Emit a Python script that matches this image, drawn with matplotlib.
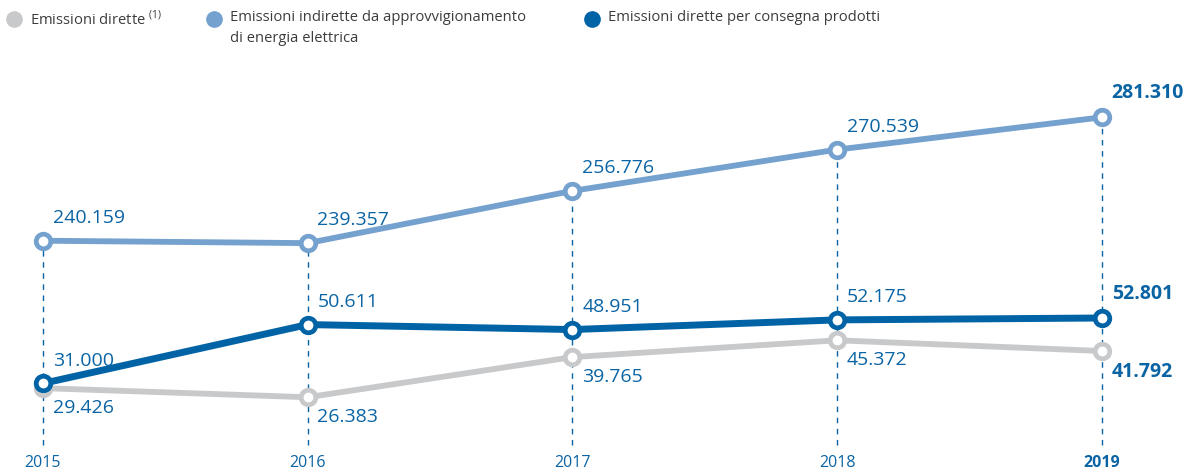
import numpy as np
import matplotlib
matplotlib.use('Agg')
import matplotlib.pyplot as plt
from matplotlib.transforms import blended_transform_factory

plt.rcParams['font.family'] = ['Open Sans', 'DejaVu Sans']

# 数据
anni = [2015, 2016, 2017, 2018, 2019]
dirette = [29426, 26383, 39765, 45372, 41792]
indirette = [240159, 239357, 256776, 270539, 281310]
consegna = [31000, 50611, 48951, 52175, 52801]
etichette_anni = ['2015', '2016', '2017', '2018', '2019']

grigio = '#C8C9CB'
azzurro = '#75A1CF'
blu = '#0063A6'
testo_blu = '#0A64A4'


# scala spezzata: comprime l'intervallo 60.000-230.000
def avanti(v):
    v = np.asarray(v, dtype=float)
    return np.where(v <= 60000, v,
                    np.where(v <= 230000, 60000 + (v - 60000) * 8400 / 170000, v - 161600))


def indietro(t):
    t = np.asarray(t, dtype=float)
    return np.where(t <= 60000, t,
                    np.where(t <= 68400, 60000 + (t - 60000) * 170000 / 8400, t + 161600))


fig = plt.figure(figsize=(11.96, 4.71), dpi=100)
ax = fig.add_axes([0, 0, 1, 1])
ax.set_yscale('function', functions=(avanti, indietro))
ax.set_xlim(2014.838, 2019.355)
ax.set_ylim(1801, 320401)
ax.axis('off')

# linee tratteggiate verticali
for x, top in zip(anni, np.max([dirette, indirette, consegna], axis=0)):
    ax.plot([x, x], [10468, top], color=testo_blu, lw=1, dashes=(4, 4), zorder=1)

for serie, col, lw in [(dirette, grigio, 4.2), (indirette, azzurro, 4.2), (consegna, blu, 5)]:
    ax.plot(anni, serie, color=col, lw=lw, zorder=2, solid_capstyle='round')
    ax.plot(anni, serie, 'o', ms=10.5, mfc='white', mec=col, mew=3.4, zorder=3)


def fmt(v):
    return f'{v:,}'.replace(',', '.')


def etichetta(x, v, sopra, ultimo):
    dy = 10 if sopra else -8
    ax.annotate(fmt(v), (x, v), xytext=(7, dy), textcoords='offset points',
                va='bottom' if sopra else 'top', ha='left', fontsize=14,
                color=testo_blu, fontweight='bold' if ultimo else 'normal')


for i, x in enumerate(anni):
    ultimo = i == len(anni) - 1
    etichetta(x, indirette[i], True, ultimo)
    etichetta(x, consegna[i], True, ultimo)
    etichetta(x, dirette[i], False, ultimo)

# anni sull'asse x
trans = blended_transform_factory(ax.transData, fig.transFigure)
for x, lab in zip(anni, etichette_anni):
    ax.text(x, 1 - 463 / 471, lab, transform=trans, ha='center', va='center',
            fontsize=11.5, color=testo_blu, fontweight='bold' if lab == '2019' else 'normal')

# legenda
voci = [(14, grigio, 'Emissioni dirette $^{\\mathregular{(1)}}$'),
        (214, azzurro, 'Emissioni indirette da approvvigionamento\ndi energia elettrica'),
        (592, blu, 'Emissioni dirette per consegna prodotti')]
for px, col, txt in voci:
    fig.add_artist(plt.Line2D([px / 1196], [1 - 19 / 471], marker='o', ms=11,
                              color=col, transform=fig.transFigure))
    fig.text((px + 16) / 1196, 1 - 10 / 471, txt, ha='left', va='top',
             fontsize=10.6, color='#3C3C3C', linespacing=1.5)

fig.savefig('out.png', dpi=100)
